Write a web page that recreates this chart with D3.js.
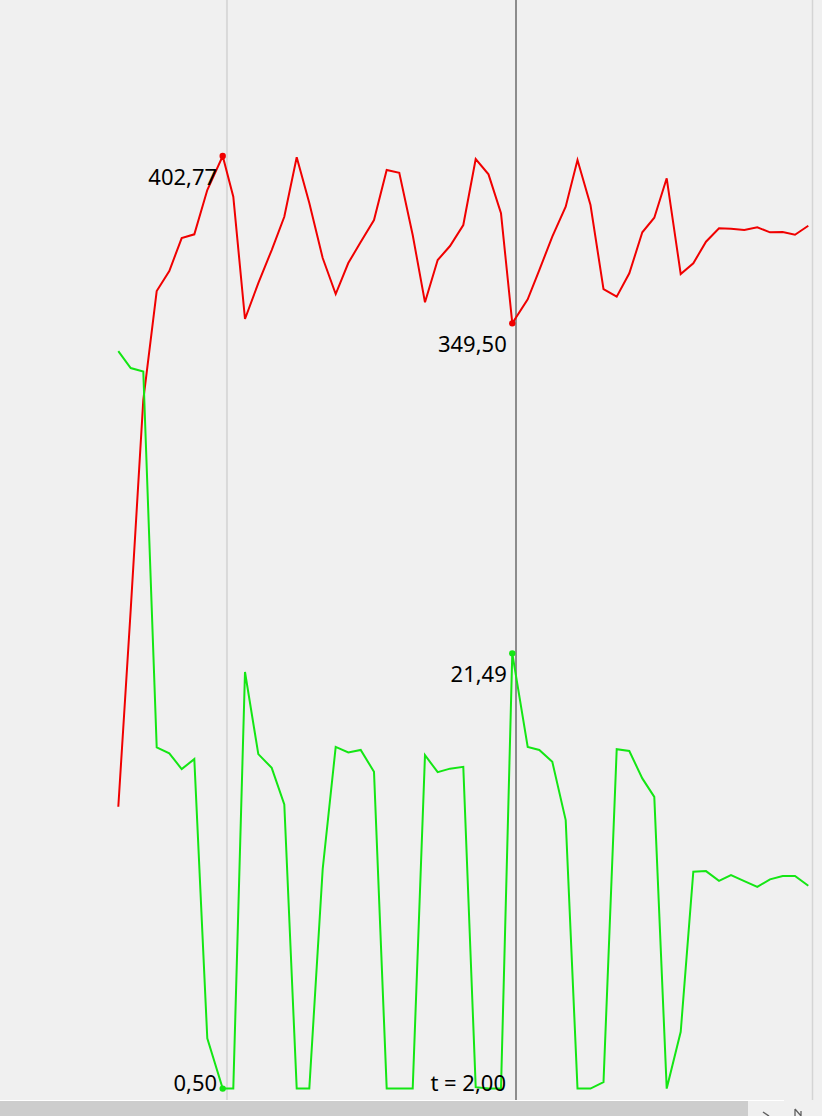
<!DOCTYPE html>
<html>
<head>
<meta charset="utf-8">
<script src="https://cdn.jsdelivr.net/npm/d3@7"></script>
<style>
  html, body { margin: 0; padding: 0; background: #f0f0f0; overflow: hidden; }
  svg { display: block; }
</style>
</head>
<body>
<svg id="chart" width="822" height="1116"></svg>
<script>
// ---- data ----
const time = [0.4465, 0.4949, 0.5441, 0.5965, 0.6457, 0.6941, 0.7434, 0.7941, 0.8543, 0.8957,
  0.9414, 0.9934, 1.0457, 1.0949, 1.1434, 1.1926, 1.2449, 1.2957, 1.3449, 1.3934,
  1.4453, 1.4949, 1.5441, 1.5965, 1.6445, 1.6941, 1.7422, 1.7941, 1.8426, 1.8926,
  1.9414, 1.9855, 2.0457, 2.0910, 2.1418, 2.1941, 2.2402, 2.2910, 2.3418, 2.3934,
  2.4426, 2.4934, 2.5402, 2.5887, 2.6434, 2.6926, 2.7422, 2.7930, 2.8398, 2.8918,
  2.9426, 2.9922, 3.0418, 3.0898, 3.1418];

const redSeries = [195.58, 258.22, 325.08, 359.79, 366.15, 376.66, 377.84, 391.94, 402.77, 389.81,
  350.87, 362.33, 372.84, 383.44, 402.36, 387.80, 370.29, 358.83, 368.70, 375.39,
  382.39, 398.31, 397.45, 377.62, 356.19, 369.66, 374.11, 380.80, 401.81, 396.94,
  384.53, 349.50, 357.14, 366.47, 377.08, 386.63, 401.50, 387.17, 360.42, 357.97,
  365.42, 378.48, 383.12, 395.67, 365.20, 368.61, 375.48, 379.75, 379.62, 379.21,
  380.07, 378.48, 378.57, 377.71, 380.58];

const greenSeries = [36.07, 35.25, 35.08, 16.96, 16.67, 15.91, 16.39, 2.92, 0.50, 0.50,
  20.59, 16.63, 15.97, 14.21, 0.50, 0.50, 11.09, 16.98, 16.71, 16.83,
  15.78, 0.50, 0.50, 0.50, 16.58, 15.76, 15.93, 16.02, 0.57, 0.50,
  0.50, 21.49, 16.98, 16.83, 16.26, 13.45, 0.50, 0.50, 0.81, 16.87,
  16.78, 15.46, 14.57, 0.50, 3.24, 10.96, 10.99, 10.52, 10.80, 10.51,
  10.23, 10.59, 10.75, 10.75, 10.28];

const cursorTimes = [0.871, 2.00];     // passive cursor, active cursor
const activeCursor = 1;
const timeDomain = [0, 3.2];
const redDomain = [102.2, 452.45];
const greenDomain = [-0.05, 53.0];

// ---- layout ----
const W = 822, H = 1116;
const plotBottom = 1100;
const svg = d3.select("#chart");

const x = d3.scaleLinear().domain(timeDomain).range([4, 4 + 256 * 3.2]);
const yRed = d3.scaleLinear().domain(redDomain).range([plotBottom, 0]);
const yGreen = d3.scaleLinear().domain(greenDomain).range([plotBottom, 0]);

const loc = d3.formatLocale({decimal: ",", thousands: ".", grouping: [3], currency: ["", ""]});
const fmt = loc.format(".2f");

svg.append("rect").attr("width", W).attr("height", H).attr("fill", "#f0f0f0");

// right border of plot
svg.append("line")
  .attr("x1", 812.5).attr("x2", 812.5).attr("y1", 0).attr("y2", plotBottom)
  .attr("stroke", "#d4d4d4").attr("stroke-width", 1.5);

// cursor lines
cursorTimes.forEach((t, i) => {
  svg.append("line")
    .attr("x1", x(t)).attr("x2", x(t)).attr("y1", 0).attr("y2", plotBottom)
    .attr("stroke", i === activeCursor ? "#8c8c8c" : "#d9d9d9")
    .attr("stroke-width", 2);
});

const idx = d3.range(time.length);
const lineRed = d3.line().x(i => x(time[i])).y(i => yRed(redSeries[i]));
const lineGreen = d3.line().x(i => x(time[i])).y(i => yGreen(greenSeries[i]));

const redColor = "#f00000", greenColor = "#14e614";

svg.append("path").attr("d", lineRed(idx)).attr("fill", "none")
  .attr("stroke", redColor).attr("stroke-width", 2).attr("stroke-linejoin", "miter");
svg.append("path").attr("d", lineGreen(idx)).attr("fill", "none")
  .attr("stroke", greenColor).attr("stroke-width", 2).attr("stroke-linejoin", "miter");

// nearest sample per cursor
function nearest(t) {
  return d3.least(idx, i => Math.abs(time[i] - t));
}

const font = "'Noto Sans', 'Open Sans', sans-serif";
cursorTimes.forEach((t, ci) => {
  const k = nearest(t);
  [[redSeries, yRed, redColor], [greenSeries, yGreen, greenColor]].forEach(([s, y, c]) => {
    const px = x(time[k]), py = y(s[k]);
    svg.append("circle").attr("cx", px).attr("cy", py).attr("r", 3.2).attr("fill", c);
    svg.append("text")
      .attr("x", px - 5.5)
      .attr("y", Math.min(py + 28.5, plotBottom - 9))
      .attr("text-anchor", "end")
      .attr("font-family", font).attr("font-size", 22)
      .attr("fill", "#000")
      .text(fmt(s[k]));
  });
});

// active cursor time label
svg.append("text")
  .attr("x", x(cursorTimes[activeCursor]) - 10)
  .attr("y", plotBottom - 9)
  .attr("text-anchor", "end")
  .attr("font-family", font).attr("font-size", 22)
  .attr("fill", "#000")
  .text("t = " + fmt(cursorTimes[activeCursor]));

// horizontal scrollbar at bottom
svg.append("line").attr("x1", 0).attr("x2", 784).attr("y1", plotBottom + 0.5).attr("y2", plotBottom + 0.5)
  .attr("stroke", "#ffffff").attr("stroke-width", 1);
svg.append("rect").attr("x", 0).attr("y", plotBottom + 1).attr("width", 748).attr("height", H - plotBottom - 1)
  .attr("fill", "#cdcdcd");
svg.append("path").attr("d", "M763,1112 L769,1116").attr("stroke", "#606060").attr("stroke-width", 1.5).attr("fill", "none");
svg.append("path").attr("d", "M795,1116 L795,1109 M795,1109 L801,1116 M801,1116 L801,1111")
  .attr("stroke", "#606060").attr("stroke-width", 1.3).attr("fill", "none");
</script>
</body>
</html>
